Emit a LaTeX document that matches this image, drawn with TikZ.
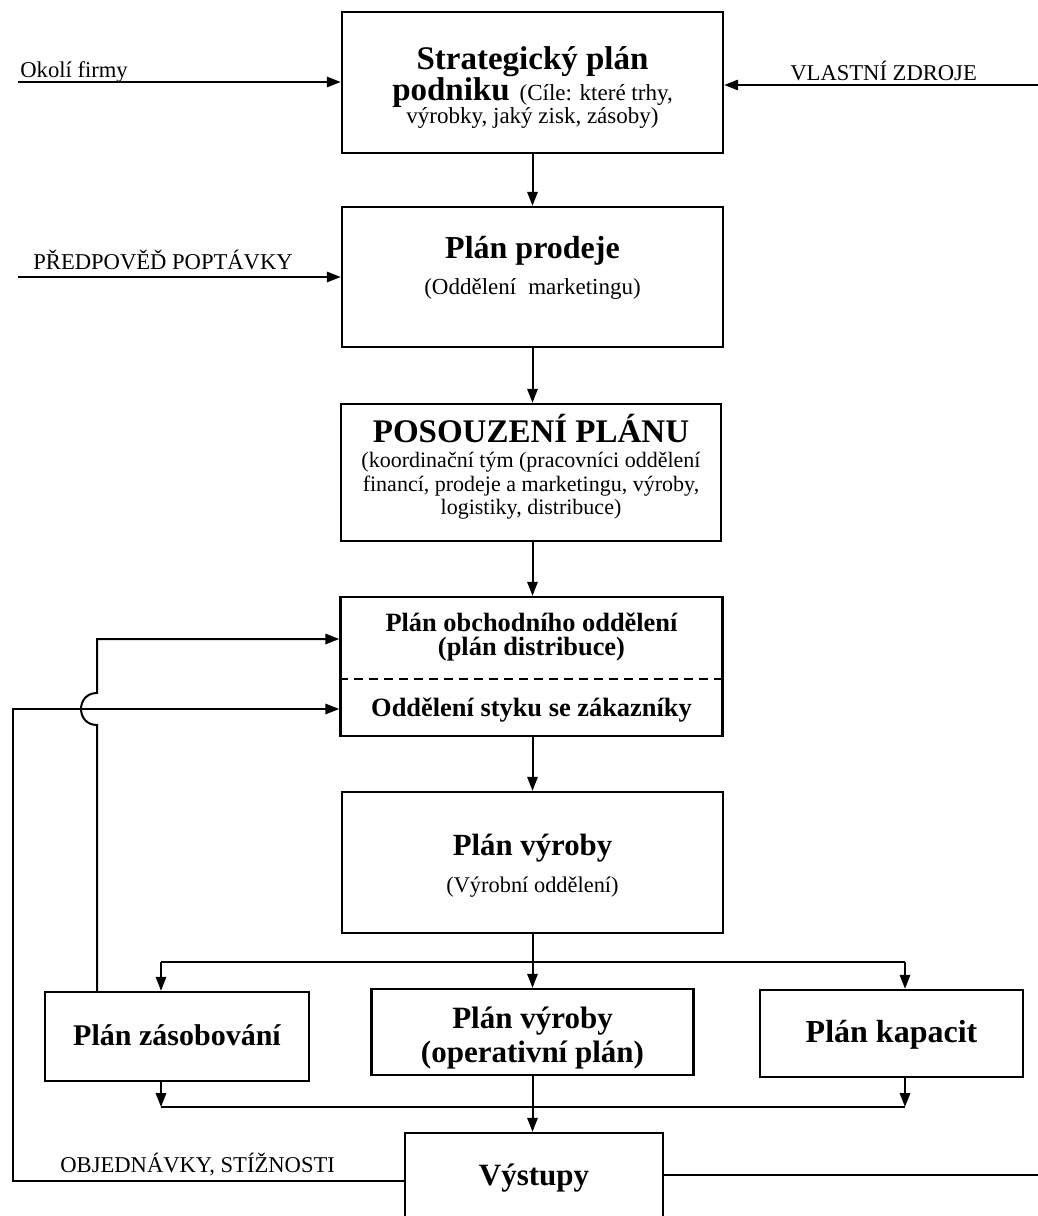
\documentclass[tikz,border=0pt]{standalone}
\usepackage{fontspec}
\setmainfont{Liberation Serif}
\usetikzlibrary{arrows.meta}
\begin{document}
\begin{tikzpicture}[x=0.5pt,y=-0.5pt,
  box/.style={draw, line width=1.2pt, inner sep=0pt},
  conn/.style={line width=1pt},
  arr/.style={conn, -{Triangle[length=7pt,width=5.2pt]}},
  txt/.style={anchor=base, inner sep=0pt},
  lbl/.style={anchor=base west, inner sep=0pt, font=\fontsize{11.3}{13}\selectfont},
]
\useasboundingbox (0,0) rectangle (1038,1216);
\clip (0,0) rectangle (1038,1216);

% boxes
\node[box, minimum width=190.5pt, minimum height=70.5pt] (b1) at (532.5,82.5) {};
\node[box, minimum width=190.5pt, minimum height=70pt] (b2) at (532.5,277) {};
\node[box, minimum width=190pt, minimum height=68.5pt] (b3) at (531,472.5) {};
\node[box, minimum width=191pt, minimum height=69.5pt] (b4) at (531.5,666.5) {};
\node[box, minimum width=190.5pt, minimum height=70.5pt] (b5) at (532.5,862.5) {};
\node[box, minimum width=132pt, minimum height=44.5pt] (b6) at (177,1036.5) {};
\node[box, minimum width=161pt, minimum height=43pt] (b7) at (532.5,1032) {};
\node[box, minimum width=131.5pt, minimum height=43.5pt] (b8) at (891.5,1033.5) {};
\node[box, minimum width=129pt, minimum height=45pt] (b9) at (534,1178) {};

% texts in boxes
\node[txt, font=\bfseries\fontsize{16.5}{20}\selectfont] (t1a) at (532.5,69) {Strategický plán};
\node[txt] (t1b) at (532.5,100) {{\bfseries\fontsize{16.5}{20}\selectfont podniku}\hspace{5pt}{\fontsize{11.5}{14}\selectfont(Cíle: které trhy,}};
\node[txt, font=\fontsize{11.5}{14}\selectfont] (t1c) at (532.5,123) {výrobky, jaký zisk, zásoby)};

\node[txt, font=\bfseries\fontsize{16}{19}\selectfont] (t2a) at (532.5,258.5) {Plán prodeje};
\node[txt, font=\fontsize{11.5}{14}\selectfont] (t2b) at (532.5,294.5) {(Oddělení\hspace{6pt}marketingu)};

\node[txt, font=\bfseries\fontsize{16.5}{19}\selectfont] (t3a) at (531,442) {POSOUZENÍ PLÁNU};
\node[txt, font=\fontsize{11}{13}\selectfont] (t3b) at (531,467) {(koordinační tým (pracovníci oddělení};
\node[txt, font=\fontsize{11}{13}\selectfont] (t3c) at (531,491) {financí, prodeje a marketingu, výroby,};
\node[txt, font=\fontsize{11}{13}\selectfont] (t3d) at (531,514) {logistiky, distribuce)};

\node[txt, font=\bfseries\fontsize{13.2}{16}\selectfont] (t4a) at (531.5,631) {Plán obchodního oddělení};
\node[txt, font=\bfseries\fontsize{13.2}{16}\selectfont] (t4b) at (531.5,655) {(plán distribuce)};
\node[txt, font=\bfseries\fontsize{13.2}{16}\selectfont] (t4c) at (531.5,716) {Oddělení styku se zákazníky};

\node[txt, font=\bfseries\fontsize{15.4}{18}\selectfont] (t5a) at (532.5,855) {Plán výroby};
\node[txt, font=\fontsize{11.2}{14}\selectfont] (t5b) at (532.5,892.5) {(Výrobní oddělení)};

\node[txt, font=\bfseries\fontsize{15}{18}\selectfont] (t6) at (177,1045) {Plán zásobování};
\node[txt, font=\bfseries\fontsize{15.5}{18}\selectfont] (t7a) at (532.5,1028) {Plán výroby};
\node[txt, font=\bfseries\fontsize{15.5}{18}\selectfont] (t7b) at (532.5,1062) {(operativní plán)};
\node[txt, font=\bfseries\fontsize{16}{18}\selectfont] (t8) at (891.5,1042) {Plán kapacit};
\node[txt, font=\bfseries\fontsize{15.5}{18}\selectfont] (t9) at (534,1185) {Výstupy};

% dashed divider
\coordinate (dv) at (0,679);
\draw[line width=0.8pt, dash pattern=on 4.5pt off 3pt] (b4.west |- dv) -- (b4.east |- dv);

% outside labels
\node[lbl] (lok) at (20,77.5) {Okolí firmy};
\node[lbl] (lvz) at (790,80.5) {VLASTNÍ ZDROJE};
\node[lbl] (lpp) at (33,269.5) {PŘEDPOVĚĎ POPTÁVKY};
\node[lbl] (lob) at (60,1172.5) {OBJEDNÁVKY, STÍŽNOSTI};

% inputs
\coordinate (okol) at (18,82);
\draw[arr] (okol) -- (okol -| b1.west);
\coordinate (vlz) at (1038,85);
\draw[arr] (vlz) -- (vlz -| b1.east);
\coordinate (pp) at (18,277);
\draw[arr] (pp) -- (pp -| b2.west);

% main column
\draw[arr] (b1.south) -- (b2.north);
\draw[arr] (b2.south) -- (b3.north -| b2.south);
\draw[arr] (b3.south -| b2.south) -- (b4.north -| b2.south);
\draw[arr] (b4.south -| b2.south) -- (b5.north);

% distribution
\coordinate (dc) at (532.5,962);
\coordinate (dl) at (161,962);
\coordinate (dr) at (905,962);
\draw[conn] (b5.south) -- (dc);
\draw[conn] (dl) -- (dr);
\draw[arr] (dl) -- (dl |- b6.north);
\draw[arr] (dc) -- (b7.north);
\draw[arr] (dr) -- (dr |- b8.north);

% merge
\coordinate (ml) at (161,1107);
\coordinate (mr) at (905,1107);
\draw[arr] (ml |- b6.south) -- (ml);
\draw[arr] (mr |- b8.south) -- (mr);
\draw[conn] (ml) -- (mr);
\draw[arr] (b7.south) -- (b9.north -| b7.south);

% feedback from Plán zásobování (with jump)
\coordinate (f1) at (97,639);
\coordinate (jb) at (97,725);
\coordinate (jt) at (97,693);
\draw[arr] (f1 |- b6.north) -- (jb) .. controls (75.7,725) and (75.7,693) .. (jt) -- (f1) -- (f1 -| b4.west);

% feedback from Výstupy
\coordinate (f2) at (13,1181);
\coordinate (f2t) at (13,709);
\draw[arr] (f2 -| b9.west) -- (f2) -- (f2t) -- (f2t -| b4.west);

% output to the right
\coordinate (outR) at (1038,1175);
\draw[conn] (b9.east |- outR) -- (outR);
\end{tikzpicture}
\end{document}
